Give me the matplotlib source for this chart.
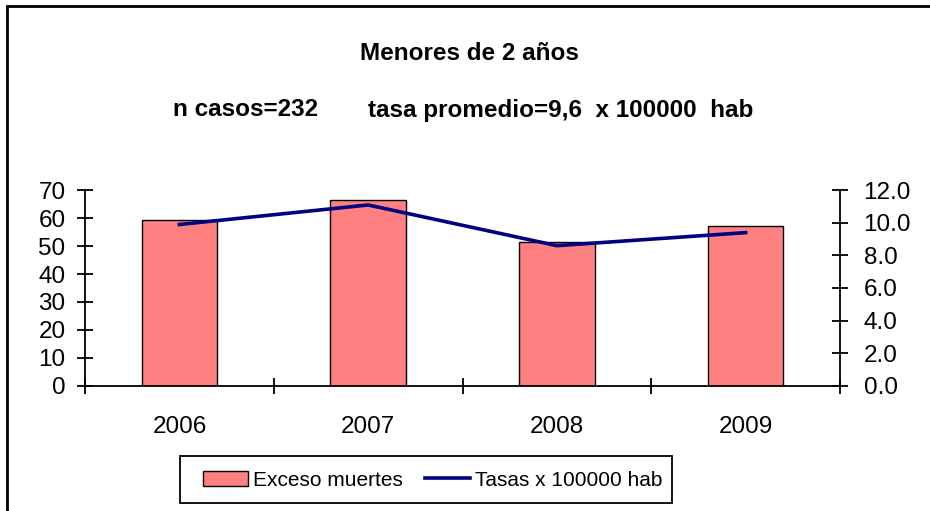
import numpy as np
import matplotlib
matplotlib.use("Agg")
from matplotlib import pyplot as plt
from matplotlib.patches import Rectangle, Patch
from matplotlib.lines import Line2D
from matplotlib.ticker import FormatStrFormatter

plt.rcParams['font.family'] = ['Liberation Sans', 'DejaVu Sans']

years = ['2006', '2007', '2008', '2009']
exceso_muertes = [59.4, 66.5, 51.6, 57.3]
tasas = [9.9, 11.1, 8.6, 9.4]

W, H = 930, 511
fs = 17.5
fig = plt.figure(figsize=(W / 100, H / 100), dpi=100)

# outer frame
fig.patches.append(Rectangle((7 / W, -0.05), 1.0, 1 - 6 / H + 0.05, transform=fig.transFigure,
                             fill=False, edgecolor='black', linewidth=2))

ax = fig.add_axes([85 / W, 1 - 385.7 / H, (840 - 85) / W, (385.7 - 190.3) / H])
x = np.arange(len(years))
ax.bar(x, exceso_muertes, width=0.4, color='#FF8080', edgecolor='black', linewidth=1, zorder=2)
ax.set_xlim(-0.5, len(years) - 0.5)
ax.set_ylim(0, 70)
ax.set_yticks(np.arange(0, 71, 10))
ax.set_xticks(x)
ax.set_xticklabels(years)
ax.set_xticks(np.arange(-0.5, len(years), 1.0), minor=True)
ax.tick_params(axis='x', which='major', length=0, pad=22, labelsize=fs)
ax.tick_params(axis='x', which='minor', direction='inout', length=12, width=1.3)
ax.tick_params(axis='y', direction='inout', length=12, width=1.3, pad=8, labelsize=fs)
for s in ['top', 'right']:
    ax.spines[s].set_visible(False)
for s in ['left', 'bottom']:
    ax.spines[s].set_linewidth(1.3)

ax2 = ax.twinx()
ax2.plot(x, tasas, color='#000080', linewidth=2.6, zorder=3)
ax2.set_ylim(0, 12)
ax2.set_yticks(np.arange(0, 12.1, 2))
ax2.yaxis.set_major_formatter(FormatStrFormatter('%.1f'))
ax2.tick_params(axis='y', direction='inout', length=12, width=1.3, pad=11, labelsize=fs)
for s in ['top', 'left', 'bottom']:
    ax2.spines[s].set_visible(False)
ax2.spines['right'].set_linewidth(1.3)

fig.text(469 / W, 1 - 54 / H, 'Menores de 2 años', ha='center', va='center',
         fontsize=fs, fontweight='bold')
fig.text(173 / W, 1 - 110 / H, 'n casos=232', ha='left', va='center',
         fontsize=fs, fontweight='bold')
fig.text(368 / W, 1 - 110 / H, 'tasa promedio=9,6  x 100000  hab', ha='left', va='center',
         fontsize=fs, fontweight='bold')

# legend box drawn separately so its padding matches
fig.patches.append(Rectangle((180 / W, 1 - 503 / H), (672 - 180) / W, (503 - 456) / H,
                             transform=fig.transFigure, fill=False, edgecolor='black',
                             linewidth=1.3))
handles = [Patch(facecolor='#FF8080', edgecolor='black', linewidth=1),
           Line2D([], [], color='#000080', linewidth=2.6)]
fig.legend(handles, ['Exceso muertes', 'Tasas x 100000 hab'], ncol=2,
           loc='center left', bbox_to_anchor=(203 / W, 1 - 480 / H),
           fontsize=15, frameon=False, borderpad=0, borderaxespad=0,
           handlelength=2.15, handletextpad=0.25, columnspacing=1.05)

fig.savefig('out.png', dpi=100)
